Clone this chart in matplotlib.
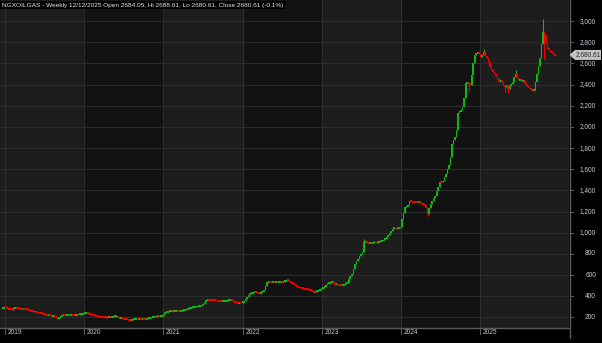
import matplotlib
matplotlib.use("Agg")
import matplotlib.pyplot as plt
from matplotlib.patches import Polygon
from matplotlib.transforms import blended_transform_factory
import numpy as np
import pandas as pd

# ---------------- data (weekly closes) ----------------
closes_2018 = [285, 297]
closes_2019 = [290, 285, 280, 276, 273, 284, 292, 290, 286, 282, 280, 281, 278,
               277, 276, 270, 265, 259, 254, 256, 250, 247, 244, 241, 236, 230,
               226, 220, 222, 218, 214, 216, 205, 196, 188, 198, 210, 219, 222,
               220, 224, 226, 223, 225, 224, 222, 224, 228, 226, 230, 233, 236]
closes_2020 = [238, 240, 236, 230, 226, 222, 218, 214, 210, 207, 205, 203, 201,
               200, 198, 199, 201, 200, 203, 207, 210, 212, 200, 190, 192, 188,
               187, 186, 180, 176, 172, 178, 182, 184, 186, 183, 185, 184, 186,
               185, 184, 190, 194, 197, 200, 203, 206, 209, 212, 210, 213, 214]
closes_2021 = [230, 250, 254, 255, 257, 258, 255, 256, 258, 257, 256, 257, 262,
               268, 272, 276, 282, 288, 292, 296, 298, 301, 304, 308, 310, 313,
               330, 345, 358, 367, 366, 364, 362, 361, 360, 358, 355, 354, 352,
               354, 355, 356, 360, 364, 367, 360, 350, 342, 340, 338, 341, 340, 342]
closes_2022 = [355, 377, 395, 410, 424, 430, 436, 442, 440, 430, 425, 438, 448,
               455, 495, 534, 538, 536, 533, 535, 532, 534, 531, 533, 536, 534,
               538, 545, 550, 548, 540, 530, 524, 512, 498, 487, 484, 480, 476,
               473, 470, 466, 462, 458, 455, 447, 440, 442, 448, 452, 460, 470]
closes_2023 = [478, 490, 505, 519, 525, 532, 540, 525, 510, 512, 508, 506, 505,
               507, 512, 520, 528, 560, 590, 613, 660, 708, 735, 755, 780, 800,
               818, 912, 915, 908, 904, 905, 902, 908, 910, 905, 912, 918, 922,
               925, 928, 945, 962, 976, 995, 1015, 1039, 1042, 1038, 1045, 1048, 1050]
closes_2024 = [1134, 1190, 1243, 1250, 1260, 1300, 1296, 1292, 1290, 1288, 1286,
               1287, 1285, 1280, 1270, 1260, 1230, 1181, 1230, 1276, 1300, 1325,
               1348, 1390, 1433, 1480, 1478, 1490, 1525, 1559, 1600, 1638, 1716,
               1843, 1880, 1906, 1969, 2127, 2150, 2158, 2190, 2269, 2411, 2420,
               2405, 2400, 2489, 2600, 2679, 2695, 2700, 2690]
closes_2025 = [2662, 2680, 2710, 2670, 2647, 2610, 2568, 2545, 2520, 2500, 2489,
               2450, 2426, 2440, 2426, 2400, 2380, 2395, 2360, 2390, 2410, 2426,
               2470, 2505, 2460, 2440, 2450, 2430, 2440, 2420, 2400, 2380, 2365,
               2350, 2340, 2352, 2426, 2505, 2580, 2647, 2780, 2900, 2870, 2789,
               2740, 2725, 2710, 2700, 2684.05, 2680.61]

# a few visible wick extremes: bar index -> (high, low)
wick_extremes = {317: (2740, None), 356: (3025, None), 357: (None, 2640),
                 331: (None, 2330), 333: (None, 2320), 338: (2540, None),
                 307: (None, 2330), 280: (None, 1160), 238: (940, None)}

first_date = "2018-12-21"
last_open, last_high, last_low, last_close = 2684.05, 2688.61, 2680.61, 2680.61
y_ticks = [200, 400, 600, 800, 1000, 1200, 1400, 1600, 1800, 2000, 2200,
           2400, 2600, 2800, 3000]
years = [2019, 2020, 2021, 2022, 2023, 2024, 2025]
title = ("NGXOILGAS - Weekly 12/12/2025 Open 2684.05, Hi 2688.61, "
         "Lo 2680.61, Close 2680.61 (-0.1%)")

# ---------------- build OHLC ----------------
close = np.array(closes_2018 + closes_2019 + closes_2020 + closes_2021 +
                 closes_2022 + closes_2023 + closes_2024 + closes_2025, float)
n = len(close)
dates = pd.date_range(first_date, periods=n, freq="7D")
opn = np.r_[close[0], close[:-1]]
opn[-1] = last_open
high = np.maximum(opn, close)
low = np.minimum(opn, close)
high[-1] = last_high
low[-1] = last_low
for k, (h, l) in wick_extremes.items():
    if h is not None:
        high[k] = h
    if l is not None:
        low[k] = l
idx = np.arange(n)

# ---------------- figure ----------------
W, H = 602, 343
fig = plt.figure(figsize=(W / 100, H / 100), dpi=100, facecolor="black")
ax = fig.add_axes([0, 15 / H, 569 / W, 1 - 15 / H])
ax.set_facecolor("#1d1d1d")
XL, XR = -1.85, 373.2
ax.set_xlim(XL, XR)
ax.set_ylim(99, 3200)

font = ["Liberation Sans", "DejaVu Sans"]
fs = 4.7

# year bands (2019 light, alternating)
year_start = [int(np.argmax(dates.year == y)) for y in years]
bounds = [XL] + [s - 0.5 for s in year_start[1:]] + [XR]
for j in range(len(bounds) - 1):
    col = "#1d1d1d" if j % 2 == 0 else "#121212"
    ax.axvspan(bounds[j], bounds[j + 1], color=col, lw=0, zorder=0)

for v in y_ticks:
    ax.axhline(v, color="#2c2c2c", lw=0.8, zorder=1)
for s in year_start:
    ax.axvline(s - 0.5, color="#2e2e2e", lw=0.8, zorder=1)

# candles
up = close >= opn
green, red = "#14b414", "#f00000"
colors = np.where(up, green, red)
ax.vlines(idx, low, high, colors=colors, lw=0.8, zorder=3)
diff = np.abs(close - opn)
minh = 18
body_bot = np.minimum(opn, close) - np.where(diff < minh, (minh - diff) / 2, 0)
body_h = np.maximum(diff, minh)
ax.bar(idx, body_h, bottom=body_bot, width=1.0, color=colors, lw=0, zorder=4)

# spines / ticks
for sp in ax.spines.values():
    sp.set_visible(False)
ax.set_xticks([])
ax.set_yticks([])
fig.add_artist(plt.Line2D([0, 569 / W], [1 - 328 / H] * 2, color="#5a5a5a", lw=1))
fig.add_artist(plt.Line2D([569.5 / W] * 2, [1 - 338 / H, 1], color="#5a5a5a", lw=1))

# y labels
tr_y = blended_transform_factory(fig.transFigure, ax.transData)
for v in y_ticks:
    ax.plot([569.5 / W, 573 / W], [v, v], transform=tr_y, color="#5a5a5a",
            lw=0.8, clip_on=False)
    ax.text(596 / W, v, f"{v:,}", transform=tr_y, ha="right", va="center",
            fontsize=fs, color="#c8c8d2", family=font)

# x labels
tr_x = blended_transform_factory(ax.transData, fig.transFigure)
for y, s in zip(years, year_start):
    ax.plot([s - 0.5, s - 0.5], [1 - 328 / H, 1 - 334 / H], transform=tr_x,
            color="#5a5a5a", lw=0.8, clip_on=False)
    ax.text(s + 1.3, 1 - 332 / H, str(y), transform=tr_x, ha="left",
            va="center", fontsize=fs, color="#c8c8c8", family=font)

# last price marker
yc = ax.transData.transform((0, last_close))[1] / H
hh = 5 / H
x0, x1, xt = 575 / W, 601 / W, 569.5 / W
poly = Polygon([[xt, yc], [x0, yc + hh], [x1, yc + hh], [x1, yc - hh], [x0, yc - hh]],
               closed=True, transform=fig.transFigure, facecolor="#c4c4c4",
               edgecolor="none", zorder=10)
fig.add_artist(poly)
fig.text(588 / W, yc, f"{last_close:,.2f}", ha="center", va="center",
         fontsize=fs, color="#2a2a2a", family=font, zorder=11)

# title
fig.text(2 / W, 1 - 5 / H, title, ha="left", va="center", fontsize=4.65,
         color="#e6e6e6", family=font,
         bbox=dict(facecolor="black", edgecolor="none", pad=1.2))

fig.savefig("out.png", dpi=100, facecolor="black")
